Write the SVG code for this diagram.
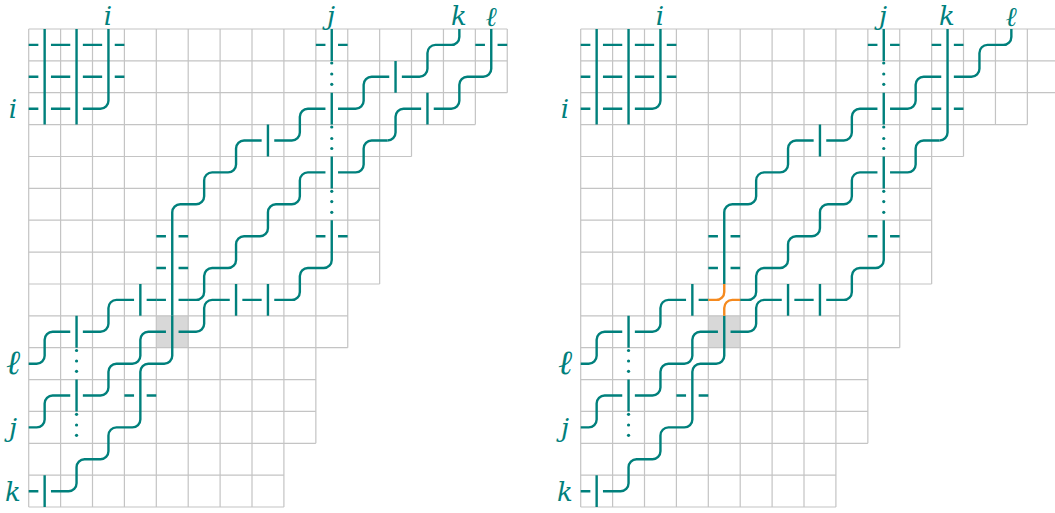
<svg xmlns="http://www.w3.org/2000/svg" width="1055" height="513" viewBox="0 0 1055 513">
<style>
.g{fill:none;stroke:#c4c4c4;stroke-width:1.2}
.w{fill:none;stroke:#00807c;stroke-width:2.4}
.o{fill:none;stroke:#f58a1f;stroke-width:2.4}
.d{fill:#00807c}
.s{fill:#d8d8d8}
text{font-family:"DejaVu Serif","Liberation Serif",serif;font-style:italic;font-size:26px;fill:#00807c;text-anchor:middle}
.l{font-size:34px}
.t{font-size:27px}
</style>
<defs>
<g id="base">
<rect class="s" x="156.35" y="315.8" width="31.9" height="31.9"/>
<path class="g" d="M28.7 29H507.25M28.7 60.9H507.25M28.7 92.7H507.25M28.7 124.6H475.35M28.7 156.5H411.5M28.7 188.4H379.65M28.7 220.2H379.65M28.7 252.1H379.65M28.7 284H379.65M28.7 315.8H347.75M28.7 347.7H347.75M28.7 379.6H315.85M28.7 411.4H315.85M28.7 443.3H315.85M28.7 475.2H283.9M28.7 507H283.9"/>
<path class="g" d="M28.7 29V507M60.6 29V507M92.5 29V507M124.4 29V507M156.3 29V507M188.2 29V507M220.1 29V507M252 29V507M283.9 29V507M315.85 29V443.3M347.75 29V347.7M379.65 29V284M411.5 29V156.5M443.45 29V124.6M475.35 29V124.6M507.25 29V92.7"/>
<path class="w" d="M44.65 29V124.6M76.55 29V124.6M28.7 44.9H38.35M50.95 44.9H70.25M82.85 44.9H102.15M114.75 44.9H124.4M28.7 76.8H38.35M50.95 76.8H70.25M82.85 76.8H102.15M114.75 76.8H124.4M28.7 108.7H38.35M50.95 108.7H70.25M82.85 108.7H100.45a8 8 0 0 0 8 -8V29"/>
<path class="w" d="M389.25 76.8H371.65a8 8 0 0 0 -8 8V100.7a8 8 0 0 1 -8 8H338.05M325.45 108.7H307.85a8 8 0 0 0 -8 8V132.5a8 8 0 0 1 -8 8H274.25M261.65 140.5H244.05a8 8 0 0 0 -8 8V164.4a8 8 0 0 1 -8 8H212.15a8 8 0 0 0 -8 8V196.3a8 8 0 0 1 -8 8H180.25a8 8 0 0 0 -8 8V284"/>
<path class="w" d="M172.25 315.8V355.7a8 8 0 0 1 -8 8H148.35a8 8 0 0 0 -8 8V419.4a8 8 0 0 1 -8 8H116.45a8 8 0 0 0 -8 8V451.3a8 8 0 0 1 -8 8H84.55a8 8 0 0 0 -8 8V483.2a8 8 0 0 1 -8 8H50.95M38.35 491.2H28.7M44.65 475.2V507M124.4 395.5H134.05M146.65 395.5H156.3"/>
<path class="w" d="M387.55 140.5H371.65a8 8 0 0 0 -8 8V164.4a8 8 0 0 1 -8 8H338.05M325.45 172.4H307.85a8 8 0 0 0 -8 8V196.3a8 8 0 0 1 -8 8H275.95a8 8 0 0 0 -8 8V228.2a8 8 0 0 1 -8 8H244.05a8 8 0 0 0 -8 8V260a8 8 0 0 1 -8 8H212.15a8 8 0 0 0 -8 8V291.9a8 8 0 0 1 -8 8H188.15M156.35 299.9H146.65M134.05 299.9H116.45a8 8 0 0 0 -8 8V323.8a8 8 0 0 1 -8 8H82.85M70.25 331.8H52.65a8 8 0 0 0 -8 8V355.7a8 8 0 0 1 -8 8H28.7"/>
<path class="w" d="M331.75 29V60.9M331.75 92.7V124.6M331.75 156.5V188.4M331.75 220.2V260a8 8 0 0 1 -8 8H307.85a8 8 0 0 0 -8 8V291.9a8 8 0 0 1 -8 8H274.25M261.65 299.9H242.35M229.75 299.9H212.15a8 8 0 0 0 -8 8V323.8a8 8 0 0 1 -8 8H178.55M165.95 331.8H148.35a8 8 0 0 0 -8 8V355.7a8 8 0 0 1 -8 8H116.45a8 8 0 0 0 -8 8V387.5a8 8 0 0 1 -8 8H82.85M70.25 395.5H52.65a8 8 0 0 0 -8 8V419.4a8 8 0 0 1 -8 8H28.7"/>
<path class="w" d="M267.95 124.6V156.5M267.95 284V315.8M236.05 284V315.8M140.35 284V315.8M76.55 315.8V347.7M76.55 379.6V411.4M315.85 44.9H325.45M338.05 44.9H347.65M315.85 236.2H325.45M338.05 236.2H347.65M156.35 236.2H165.95M178.55 236.2H188.15M156.35 268H165.95M178.55 268H188.15"/>
<path class="w" d="M459.35 29V36.9a8 8 0 0 1 -8 8H435.45a8 8 0 0 0 -8 8V68.8a8 8 0 0 1 -8 8H401.85"/>
<g class="d">
<circle cx="331.75" cy="63" r="1.6"/><circle cx="331.75" cy="74" r="1.6"/><circle cx="331.75" cy="84.3" r="1.6"/>
<circle cx="331.75" cy="127" r="1.6"/><circle cx="331.75" cy="138.5" r="1.6"/><circle cx="331.75" cy="148.5" r="1.6"/>
<circle cx="331.75" cy="191.3" r="1.6"/><circle cx="331.75" cy="201.6" r="1.6"/><circle cx="331.75" cy="212.3" r="1.6"/>
<circle cx="76.55" cy="350.5" r="1.6"/><circle cx="76.55" cy="361" r="1.6"/><circle cx="76.55" cy="371.3" r="1.6"/>
<circle cx="76.55" cy="414.3" r="1.6"/><circle cx="76.55" cy="425" r="1.6"/><circle cx="76.55" cy="435.3" r="1.6"/>
</g>
</g>
</defs>
<g id="left-diagram">
<use href="#base"/>
<g id="left-connectors">
<path class="w" d="M491.25 29V68.8a8 8 0 0 1 -8 8H467.35a8 8 0 0 0 -8 8V100.7a8 8 0 0 1 -8 8H433.75M421.15 108.7H403.55a8 8 0 0 0 -8 8V132.5a8 8 0 0 1 -8 8M475.3 44.9H484.95M497.55 44.9H507.2M395.55 60.9V92.7M427.45 92.7V124.6M172.25 284V315.8M188.15 299.9H178.55M165.95 299.9H156.35"/>
</g>
<g id="left-labels">
<text x="108" y="24.5">i</text>
<text x="331" y="24.5">j</text>
<text x="459" y="24.5">k</text>
<text class="t" x="491" y="25.5">ℓ</text>
<text x="13" y="118">i</text>
<text class="l" x="13" y="374">ℓ</text>
<text x="13" y="437">j</text>
<text x="13" y="501">k</text>
</g>
</g>
<g id="right-diagram" transform="translate(552 0)">
<use href="#base"/>
<g id="right-connectors">
<path class="w" d="M395.55 29V132.5a8 8 0 0 1 -8 8M379.65 44.9H389.25M401.85 44.9H411.5M379.65 108.7H389.25M401.85 108.7H411.5"/>
<path class="o" d="M172.25 284V291.9a8 8 0 0 1 -8 8H156.35M188.15 299.9H180.25a8 8 0 0 0 -8 8V315.8"/>
</g>
<g id="right-labels">
<text x="108" y="24.5">i</text>
<text x="331" y="24.5">j</text>
<text x="395" y="24.5">k</text>
<text class="t" x="459" y="25.5">ℓ</text>
<text x="13" y="118">i</text>
<text class="l" x="13" y="374">ℓ</text>
<text x="13" y="437">j</text>
<text x="13" y="501">k</text>
</g>
</g>
</svg>
